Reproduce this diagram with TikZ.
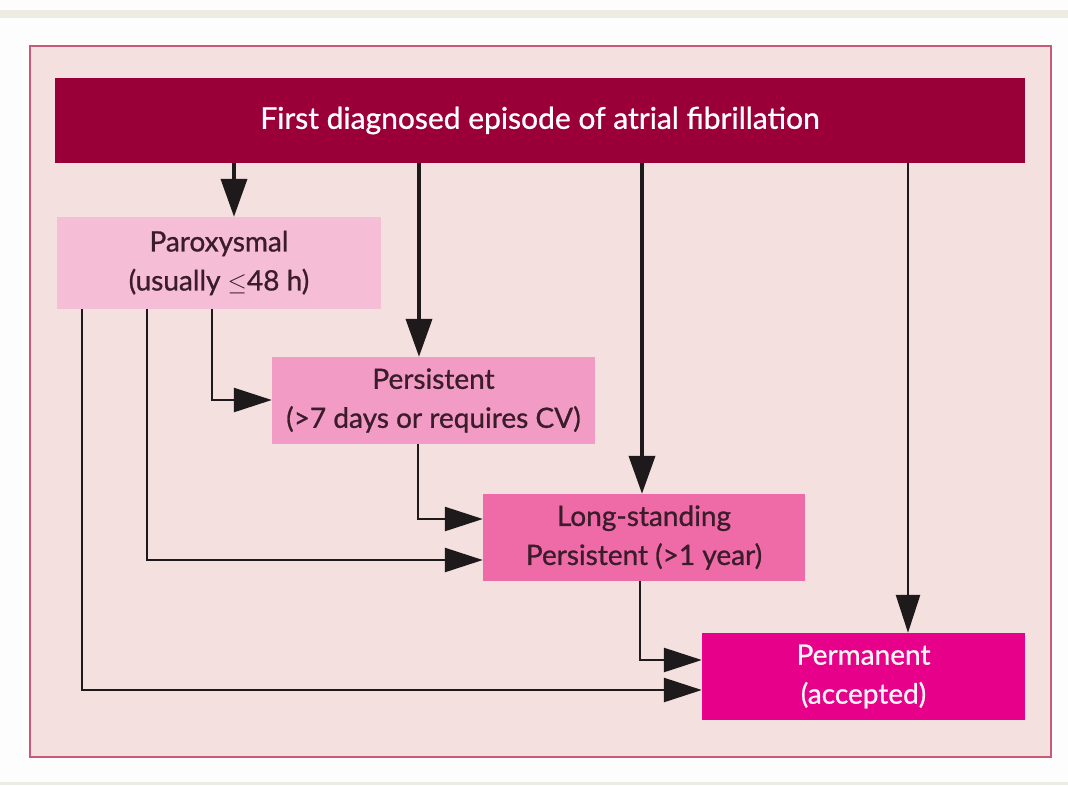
\documentclass[tikz,border=0pt]{standalone}
\usepackage{fontspec}
\setmainfont{Lato}[FakeBold=0.9]
\usetikzlibrary{arrows.meta,positioning}
\definecolor{pagebg}{HTML}{FDFDFD}
\definecolor{stripbg}{HTML}{EEEBE1}
\definecolor{framefill}{HTML}{F3E0DF}
\definecolor{frameline}{HTML}{C65A78}
\definecolor{headfill}{HTML}{9A0037}
\definecolor{paroxfill}{HTML}{F6BDD7}
\definecolor{persfill}{HTML}{F29BC5}
\definecolor{longfill}{HTML}{EE6BA8}
\definecolor{permfill}{HTML}{E6008A}
\definecolor{darktext}{HTML}{3A1C2A}
\definecolor{arrowcol}{HTML}{1E1A1C}
\tikzset{
  box/.style={draw=none, inner sep=0pt, align=center, font=\fontsize{28}{39}\selectfont},
  thickflow/.style={draw=arrowcol, line width=3.8pt, -{Triangle[length=38pt,width=26pt]}},
  thinflow/.style={draw=arrowcol, line width=2.6pt, -{Triangle[length=38pt,width=24pt]}},
}
\begin{document}
\begin{tikzpicture}[x=1pt,y=-1pt]
  % page and strips
  \fill[pagebg] (0,0) rectangle (1068,785);
  \useasboundingbox (0,0) rectangle (1068,785);
  \fill[stripbg] (0,10) rectangle (1068,18);
  \fill[stripbg] (0,782) rectangle (1068,785);
  % outer frame
  \draw[frameline, fill=framefill, line width=2pt] (30,46) rectangle (1051,757);
  % boxes
  \node[box, fill=headfill, text=white, minimum width=970pt, minimum height=85pt,
        font=\fontsize{30}{34}\selectfont] (first) at (540,120.5) {First diagnosed episode of atrial fibrillation};
  \node[box, fill=paroxfill, text=darktext, minimum width=324pt, minimum height=92pt] (parox) at (219,263)
        {Paroxysmal\\(usually $\leq$48 h)};
  \node[box, fill=persfill, text=darktext, minimum width=323pt, minimum height=87pt] (pers) at (433.5,400.5)
        {Persistent\\(>7 days or requires CV)};
  \node[box, fill=longfill, text=darktext, minimum width=322pt, minimum height=87pt] (long) at (644,537.5)
        {Long-standing\\Persistent (>1 year)};
  \node[box, fill=permfill, text=white!88!pink, minimum width=323pt, minimum height=87pt] (perm) at (863.5,676.5)
        {Permanent\\(accepted)};
  % arrows from the first diagnosis
  \draw[thickflow] (first.south -| 234,0) -- (parox.north -| 234,0);
  \draw[thickflow] (first.south -| 419,0) -- (pers.north -| 419,0);
  \draw[thickflow] (first.south -| 642,0) -- (long.north -| 642,0);
  \draw[thinflow] (first.south -| 908,0) -- (perm.north -| 908,0);
  % transitions between types
  \draw[thinflow] (parox.south -| 212,0) |- (pers.west |- 0,400);
  \draw[thinflow] (parox.south -| 147,0) |- (long.west |- 0,560);
  \draw[thinflow] (parox.south -| 82,0) |- (perm.west |- 0,690);
  \draw[thinflow] (pers.south -| 418,0) |- (long.west |- 0,519);
  \draw[thinflow] (long.south -| 640,0) |- (perm.west |- 0,660);
\end{tikzpicture}
\end{document}
